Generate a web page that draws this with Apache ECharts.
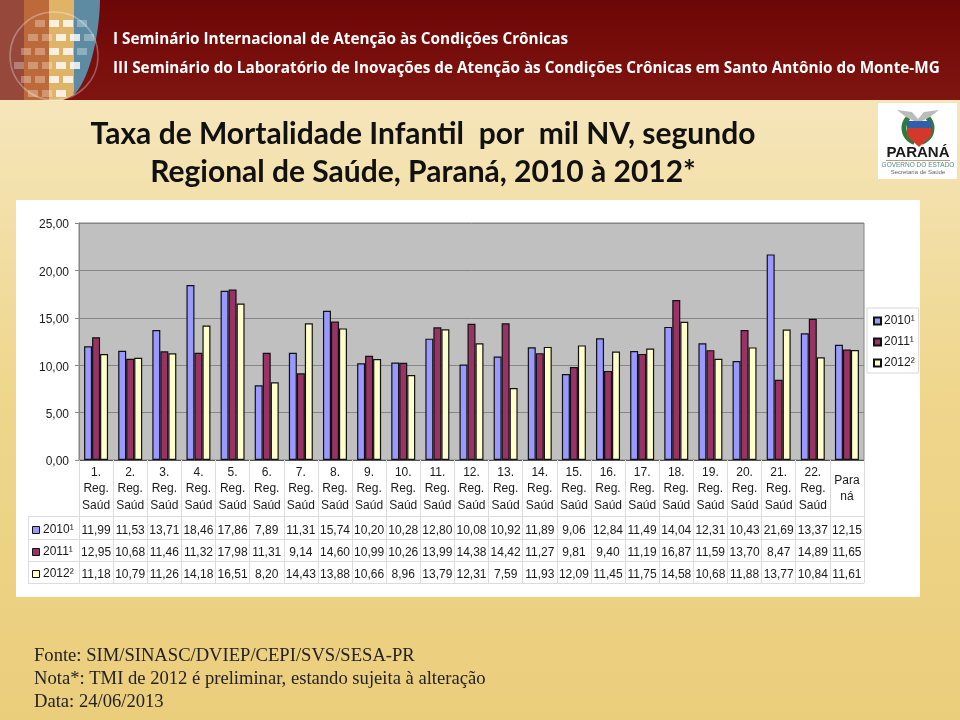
<!DOCTYPE html>
<html><head><meta charset="utf-8">
<style>html,body{margin:0;padding:0;background:#efd88f}#c{width:960px;height:720px}</style>
<script src="https://cdn.jsdelivr.net/npm/echarts@6/dist/echarts.min.js"></script>
</head><body><div id="c"></div>
<script>
const categories=['1.\nReg.\nSaúd','2.\nReg.\nSaúd','3.\nReg.\nSaúd','4.\nReg.\nSaúd','5.\nReg.\nSaúd','6.\nReg.\nSaúd','7.\nReg.\nSaúd','8.\nReg.\nSaúd','9.\nReg.\nSaúd','10.\nReg.\nSaúd','11.\nReg.\nSaúd','12.\nReg.\nSaúd','13.\nReg.\nSaúd','14.\nReg.\nSaúd','15.\nReg.\nSaúd','16.\nReg.\nSaúd','17.\nReg.\nSaúd','18.\nReg.\nSaúd','19.\nReg.\nSaúd','20.\nReg.\nSaúd','21.\nReg.\nSaúd','22.\nReg.\nSaúd','Para\nná'];
const v2010=[11.99,11.53,13.71,18.46,17.86,7.89,11.31,15.74,10.20,10.28,12.80,10.08,10.92,11.89,9.06,12.84,11.49,14.04,12.31,10.43,21.69,13.37,12.15];
const v2011=[12.95,10.68,11.46,11.32,17.98,11.31,9.14,14.60,10.99,10.26,13.99,14.38,14.42,11.27,9.81,9.40,11.19,16.87,11.59,13.70,8.47,14.89,11.65];
const v2012=[11.18,10.79,11.26,14.18,16.51,8.20,14.43,13.88,10.66,8.96,13.79,12.31,7.59,11.93,12.09,11.45,11.75,14.58,10.68,11.88,13.77,10.84,11.61];
const seriesNames=['2010¹','2011¹','2012²'];
const seriesColors=['#9999ff','#993366','#ffffcc'];
const titleText='Taxa de Mortalidade Infantil  por  mil NV, segundo\nRegional de Saúde, Paraná, 2010 à 2012*';
const bannerLines=['I Seminário Internacional de Atenção às Condições Crônicas','III Seminário do Laboratório de Inovações de Atenção às Condições Crônicas em Santo Antônio do Monte-MG'];
const footerLines=['Fonte: SIM/SINASC/DVIEP/CEPI/SVS/SESA-PR','Nota*: TMI de 2012 é preliminar, estando sujeita à alteração','Data: 24/06/2013'];

const rows=[v2010,v2011,v2012];
const fmt=v=>v.toFixed(2).replace('.',',');
const SANS='"Liberation Sans", Arial, sans-serif';
const gridLine='#868686', tableLine='#dcdcdc', ink='#1a1a1a';

const catData=categories.map(c=>c.indexOf('Para')===0?{value:c,textStyle:{padding:[8,0,0,0]}}:c);
const rowOffsets=[56,79,101];

const xAxes=[{
  type:'category',data:catData,position:'bottom',
  axisLine:{show:true,lineStyle:{color:'#555',width:1}},
  axisTick:{show:true,length:56,lineStyle:{color:tableLine}},
  axisLabel:{interval:0,margin:4,color:ink,fontFamily:SANS,fontSize:12,lineHeight:16.5},
  splitLine:{show:false}
}].concat(rows.map((r,i)=>({
  type:'category',data:r.map(fmt),position:'bottom',offset:rowOffsets[i],
  axisLine:{show:true,lineStyle:{color:tableLine,width:1}},
  axisTick:{show:true,length:i===0?23:22,lineStyle:{color:tableLine}},
  axisLabel:{interval:0,margin:i===0?9:8,color:ink,fontFamily:SANS,fontSize:12},
  splitLine:{show:false}
})));

const g=[];
// background
g.push({type:'rect',z:-20,shape:{x:0,y:0,width:960,height:720},style:{fill:{type:'linear',x:0,y:0,x2:0,y2:1,colorStops:[{offset:0,color:'#f5e6bd'},{offset:.15,color:'#f5e5b9'},{offset:.55,color:'#efd68c'},{offset:1,color:'#ebce7c'}]}}});
g.push({type:'rect',z:-19,shape:{x:0,y:0,width:960,height:100},style:{fill:{type:'linear',x:0,y:0,x2:0,y2:1,colorStops:[{offset:0,color:'#6d0606'},{offset:1,color:'#7f1510'}]}}});
g.push({type:'rect',z:-19,shape:{x:16,y:200,width:904,height:397},style:{fill:'#fff'}});
// banner globe: coloured bands clipped by an arc
const arcX=y=>Math.min(100,63+37*Math.sqrt(Math.max(0,1-Math.pow(y/100,1.7))));
const band=(x0,x1,color)=>{
  const pts=[[x0,0]];
  for(let y=0;y<=100;y+=5){pts.push([Math.max(x0,Math.min(x1,arcX(y))),y]);}
  pts.push([x0,100]);
  g.push({type:'polygon',z:-18,shape:{points:pts},style:{fill:color}});
};
band(0,24,'#96483a');band(24,49,'#bd6a3a');band(49,74,'#e0b468');band(74,100,'#5f8ba2');
for(let ry=0;ry<8;ry++){for(let cx=0;cx<6;cx++){
  const x=14+cx*14+(ry%2?7:0), y=6+ry*14;
  const d=Math.hypot(x-54,y-56);
  if(d<44&&x+10<arcX(y)){
    g.push({type:'rect',z:-17,shape:{x:x,y:y,width:10,height:7},style:{fill:'rgba(255,255,255,'+(x>48&&x<72?0.8:0.3)+')'}});
  }
}}
g.push({type:'circle',z:-17,shape:{cx:54,cy:56,r:44},style:{fill:'none',stroke:'rgba(255,255,255,.3)',lineWidth:1.5}});
// banner text
bannerLines.forEach((t,i)=>g.push({type:'text',z:-15,x:113,y:40+i*29,style:{text:t,fill:'#fff',font:'bold 15.3px "Open Sans", sans-serif',textVerticalAlign:'middle'}}));
// footer
footerLines.forEach((t,i)=>g.push({type:'text',z:-15,x:34,y:656+i*23,style:{text:t,fill:'#222',font:'18.6px "Liberation Serif", serif',textVerticalAlign:'middle'}}));
// logo
g.push({type:'rect',z:-15,shape:{x:878,y:103,width:79,height:76},style:{fill:'#fff'}});
g.push({type:'arc',z:-14,shape:{cx:919,cy:128,r:15,startAngle:Math.PI*0.6,endAngle:Math.PI*1.25},style:{fill:'none',stroke:'#2f7a3a',lineWidth:5}});
g.push({type:'arc',z:-14,shape:{cx:917,cy:128,r:15,startAngle:-Math.PI*0.25,endAngle:Math.PI*0.4},style:{fill:'none',stroke:'#2f7a3a',lineWidth:5}});
g.push({type:'polygon',z:-14,shape:{points:[[897,110],[912,112],[918,119],[924,112],[939,110],[930,117],[922,121],[914,121],[906,117]]},style:{fill:'#b9bcb9'}});
g.push({type:'polygon',z:-13,shape:{points:[[907,121],[931,121],[931,136],[919,147],[907,136]]},style:{fill:'#d4372c'}});
g.push({type:'rect',z:-13,shape:{x:907,y:121,width:24,height:7},style:{fill:'#2f5fa8'}});
g.push({type:'text',z:-13,x:918,y:153,style:{text:'PARANÁ',fill:'#1a1a1a',font:'bold 15px "Liberation Sans"',textAlign:'center',textVerticalAlign:'middle'}});
g.push({type:'rect',z:-13,shape:{x:886,y:160,width:64,height:1},style:{fill:'#b98'}});
g.push({type:'text',z:-13,x:918,y:165,style:{text:'GOVERNO DO ESTADO',fill:'#4f8f86',font:'6.5px "Liberation Sans"',textAlign:'center',textVerticalAlign:'middle'}});
g.push({type:'text',z:-13,x:918,y:172,style:{text:'Secretaria de Saúde',fill:'#666',font:'6px "Liberation Sans"',textAlign:'center',textVerticalAlign:'middle'}});
// table header cells and bottom rule
[516,539,561,583].forEach(y=>g.push({type:'line',z:-5,shape:{x1:28,y1:y+.5,x2:y===583?864:79,y2:y+.5},style:{stroke:tableLine,lineWidth:1}}));
g.push({type:'line',z:-5,shape:{x1:28.5,y1:516,x2:28.5,y2:583},style:{stroke:tableLine,lineWidth:1}});
seriesNames.forEach((n,i)=>{
  const cy=[530,552,574][i];
  g.push({type:'rect',z:-5,shape:{x:32.5,y:cy-3.5,width:7,height:7},style:{fill:seriesColors[i],stroke:'#111',lineWidth:1}});
  g.push({type:'text',z:-5,x:43,y:cy,style:{text:n,fill:ink,font:'12px "Liberation Sans"',textVerticalAlign:'middle'}});
});

const option={
  animation:false,
  title:{text:titleText,left:418,top:110,textAlign:'center',textStyle:{fontFamily:'Lato, sans-serif',fontWeight:'bold',fontSize:30,lineHeight:38,color:'#111'}},
  legend:{data:seriesNames,orient:'vertical',left:867,top:308,itemWidth:7,itemHeight:7,itemGap:9,padding:[7,4,4,6],
    backgroundColor:'#fff',borderColor:'#d8d8d8',borderWidth:1,icon:'rect',
    textStyle:{color:ink,fontFamily:SANS,fontSize:12,padding:[0,0,0,-2]}},
  grid:{left:79,top:223,width:785,height:237,show:true,backgroundColor:'#c0c0c0',borderColor:gridLine,borderWidth:1},
  xAxis:xAxes,
  yAxis:{type:'value',min:0,max:25,interval:5,
    axisLine:{show:true,lineStyle:{color:gridLine}},
    axisTick:{show:true,length:4,lineStyle:{color:gridLine}},
    axisLabel:{margin:10,verticalAlign:'top',padding:[-4,0,0,0],color:ink,fontFamily:SANS,fontSize:12,formatter:v=>fmt(v)},
    splitLine:{show:true,lineStyle:{color:gridLine,width:1}}},
  series:rows.map((r,i)=>({name:seriesNames[i],type:'bar',xAxisIndex:0,data:r,barWidth:8,barGap:'0%',
    itemStyle:{color:seriesColors[i],borderColor:'#111',borderWidth:1.2}})),
  graphic:{elements:g}
};
echarts.init(document.getElementById('c')).setOption(option);
</script></body></html>
